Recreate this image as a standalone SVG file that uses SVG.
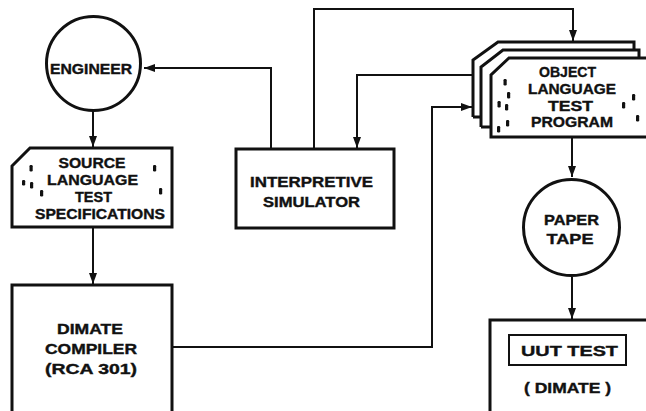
<svg xmlns="http://www.w3.org/2000/svg" width="646" height="411" viewBox="0 0 646 411">
<defs>
<style>
.box{fill:#fff;stroke:#111;stroke-width:3;stroke-linejoin:miter}
.thin{fill:#fff;stroke:#111;stroke-width:2}
.con{fill:none;stroke:#111;stroke-width:2}
.t{font-family:"Liberation Sans",Arial,sans-serif;font-weight:bold;font-size:15.5px;fill:#111;stroke:#111;stroke-width:0.4;text-anchor:middle}
.tk{fill:#111}
</style>
<marker id="ah" markerUnits="userSpaceOnUse" markerWidth="12" markerHeight="9" refX="11" refY="4" orient="auto">
<path d="M0,0 L11,4 L0,8 z" fill="#111"/>
</marker>
</defs>
<rect width="646" height="411" fill="#fff"/>

<g id="connectors">
<path class="con" d="M93,110 V147" marker-end="url(#ah)"/>
<path class="con" d="M93,228 V284" marker-end="url(#ah)"/>
<path class="con" d="M271,149 V68 H144" marker-end="url(#ah)"/>
<path class="con" d="M314,149 V9 H573 V41" marker-end="url(#ah)"/>
<path class="con" d="M473,75 H357 V148" marker-end="url(#ah)"/>
<path class="con" d="M172,347 H432 V107 H472" marker-end="url(#ah)"/>
<path class="con" d="M572,138 V177" marker-end="url(#ah)"/>
<path class="con" d="M572,277 V319" marker-end="url(#ah)"/>
</g>

<g id="engineer">
<circle class="box" cx="93.5" cy="63.5" r="47"/>
<text class="t" x="91" y="74" textLength="82" lengthAdjust="spacingAndGlyphs">ENGINEER</text>
</g>

<g id="source-spec">
<path class="box" d="M12,166 L30,148 H172 V227 H12 Z"/>
<text class="t" x="92" y="168" textLength="67" lengthAdjust="spacingAndGlyphs">SOURCE</text>
<text class="t" x="92.5" y="185" textLength="91" lengthAdjust="spacingAndGlyphs">LANGUAGE</text>
<text class="t" x="93.5" y="201.5" textLength="37" lengthAdjust="spacingAndGlyphs">TEST</text>
<text class="t" x="100" y="218.5" textLength="130" lengthAdjust="spacingAndGlyphs">SPECIFICATIONS</text>
<rect class="tk" x="29.5" y="165" width="3.2" height="6.5" rx="1.2"/>
<rect class="tk" x="22" y="180" width="3.2" height="5.5" rx="1.2"/>
<rect class="tk" x="30" y="182" width="3.2" height="6.5" rx="1.2"/>
<rect class="tk" x="40" y="190" width="3.2" height="6.5" rx="1.2"/>
<rect class="tk" x="153" y="165" width="3.2" height="6.5" rx="1.2"/>
<rect class="tk" x="159" y="188" width="3.2" height="6.5" rx="1.2"/>
</g>

<g id="simulator">
<rect class="box" x="236" y="149" width="158" height="79"/>
<text class="t" x="311.5" y="187" textLength="123" lengthAdjust="spacingAndGlyphs">INTERPRETIVE</text>
<text class="t" x="311.5" y="207" textLength="97" lengthAdjust="spacingAndGlyphs">SIMULATOR</text>
</g>

<g id="object-program">
<path class="box" d="M473,117 V60 L498,42 H634 V50"/>
<path class="box" d="M481,127 V67 L503,50 H639 V58"/>
<path class="box" d="M491,137 V75 L509,58 H660 V137 Z"/>
<path class="box" d="M473,117 H481 M481,127 H491" />
<text class="t" x="567.5" y="76.5" textLength="57" lengthAdjust="spacingAndGlyphs">OBJECT</text>
<text class="t" x="572" y="94" textLength="88" lengthAdjust="spacingAndGlyphs">LANGUAGE</text>
<text class="t" x="570.5" y="110.5" textLength="45" lengthAdjust="spacingAndGlyphs">TEST</text>
<text class="t" x="572" y="127" textLength="82" lengthAdjust="spacingAndGlyphs">PROGRAM</text>
<rect class="tk" x="503.5" y="79" width="3.2" height="6.5" rx="1.2"/>
<rect class="tk" x="507" y="92" width="3.2" height="6.5" rx="1.2"/>
<rect class="tk" x="497.5" y="101" width="3.2" height="6.5" rx="1.2"/>
<rect class="tk" x="505" y="104" width="3.2" height="6.5" rx="1.2"/>
<rect class="tk" x="497" y="126" width="3.2" height="6.5" rx="1.2"/>
<rect class="tk" x="506" y="120" width="3.2" height="6.5" rx="1.2"/>
<rect class="tk" x="622" y="102" width="3.2" height="6.5" rx="1.2"/>
<rect class="tk" x="632" y="94" width="3.2" height="6.5" rx="1.2"/>
<rect class="tk" x="636" y="115" width="3.2" height="6.5" rx="1.2"/>
</g>

<g id="compiler">
<rect class="box" x="12" y="285" width="160" height="140"/>
<text class="t" x="90" y="334" textLength="66" lengthAdjust="spacingAndGlyphs">DIMATE</text>
<text class="t" x="91" y="354" textLength="92" lengthAdjust="spacingAndGlyphs">COMPILER</text>
<text class="t" x="91" y="374" textLength="92" lengthAdjust="spacingAndGlyphs">(RCA 301)</text>
</g>

<g id="paper-tape">
<circle class="box" cx="571.5" cy="227.5" r="48"/>
<text class="t" x="571.5" y="225" textLength="55" lengthAdjust="spacingAndGlyphs">PAPER</text>
<text class="t" x="570" y="244" textLength="47" lengthAdjust="spacingAndGlyphs">TAPE</text>
</g>

<g id="dimate">
<rect class="box" x="490" y="320" width="200" height="120"/>
<rect class="thin" x="509" y="335" width="117" height="30"/>
<text class="t" x="569.5" y="356" textLength="97" lengthAdjust="spacingAndGlyphs">UUT TEST</text>
<text class="t" x="567.5" y="393" textLength="87" lengthAdjust="spacingAndGlyphs">( DIMATE )</text>
</g>
</svg>
